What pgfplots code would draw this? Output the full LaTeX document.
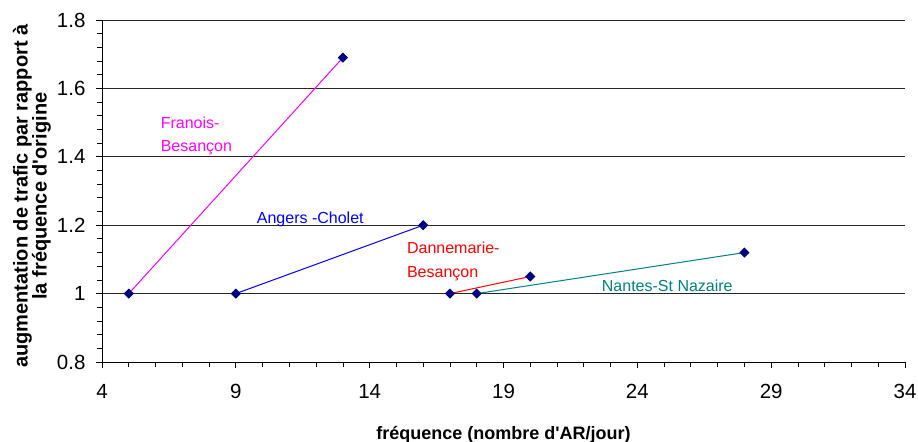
\documentclass[border=0pt]{standalone}
\usepackage{fontspec}
\setmainfont{Liberation Sans}
\usepackage{pgfplots}
\pgfplotsset{compat=1.18}
\definecolor{navymark}{RGB}{0,0,128}
\definecolor{tealline}{RGB}{0,128,128}
\definecolor{magline}{RGB}{255,0,255}
\definecolor{blueline}{RGB}{0,0,255}
\definecolor{redline}{RGB}{255,0,0}
\begin{document}
\begin{tikzpicture}
\path[use as bounding box] (0,0) rectangle (918bp,442bp);
\begin{axis}[
  at={(102bp,80bp)}, anchor=south west,
  scale only axis, width=803bp, height=342bp,
  xmin=4, xmax=34, ymin=0.8, ymax=1.8,
  xtick={4,9,14,19,24,29,34},
  ytick={0.8,1,1.2,1.4,1.6,1.8},
  minor x tick num=4, minor y tick num=4,
  axis x line*=bottom, axis y line*=left,
  axis line style={-, black, line width=0.8bp},
  every tick/.style={black, line width=0.8bp},
  major tick length=6bp, minor tick length=5bp,
  tick align=outside,
  ymajorgrids, grid style={black!85, line width=0.7bp},
  /pgf/number format/assume math mode=true,
  ticklabel style={font=\fontsize{20.5bp}{22bp}\selectfont},
  xticklabel style={yshift=-13bp},
  yticklabel style={xshift=-7bp},
  xlabel={fréquence (nombre d\textquotesingle AR/jour)},
  xlabel style={at={(axis description cs:0.5,0)}, anchor=center, yshift=-73bp,
    font=\bfseries\fontsize{18bp}{20bp}\selectfont},
  ylabel={augmentation de trafic par rapport à\\la fréquence d\textquotesingle origine},
  ylabel style={at={(axis description cs:-0.0872,0.485)}, anchor=center,
    align=center, font=\bfseries\fontsize{20bp}{19bp}\selectfont},
  every axis plot/.append style={line width=1bp, mark=square*, mark size=3.1bp,
    mark options={fill=navymark, draw=navymark, solid, rotate=45}},
  clip=false,
]
\addplot[magline] coordinates {(5,1) (13,1.69)};
\addplot[blueline] coordinates {(9,1) (16,1.2)};
\addplot[redline] coordinates {(17,1) (20,1.05)};
\addplot[tealline] coordinates {(18,1) (28,1.12)};
\node[anchor=north west, inner sep=0pt, align=left, text=magline,
  font=\fontsize{16bp}{23bp}\selectfont] at (axis cs:6.19,1.516) {Franois-\\Besançon};
\node[anchor=north west, inner sep=0pt, align=left, text=blueline,
  font=\fontsize{16bp}{23bp}\selectfont] at (axis cs:9.78,1.2386) {Angers -Cholet};
\node[anchor=north west, inner sep=0pt, align=left, text=redline,
  font=\fontsize{16bp}{24bp}\selectfont] at (axis cs:15.39,1.151) {Dannemarie-\\Besançon};
\node[anchor=north west, inner sep=0pt, align=left, text=tealline,
  font=\fontsize{16bp}{23bp}\selectfont] at (axis cs:22.67,1.04) {Nantes-St Nazaire};
\end{axis}
\end{tikzpicture}
\end{document}
